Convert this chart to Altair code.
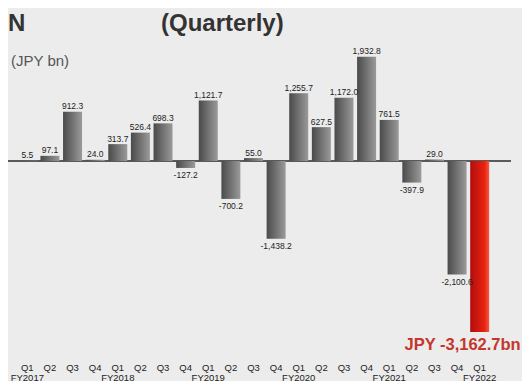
import altair as alt
import pandas as pd

quarters = ["Q1", "Q2", "Q3", "Q4"] * 5 + ["Q1"]
fiscal_years = (["FY2017"] * 4 + ["FY2018"] * 4 + ["FY2019"] * 4 +
                ["FY2020"] * 4 + ["FY2021"] * 4 + ["FY2022"])
values = [5.5, 97.1, 912.3, 24.0, 313.7, 526.4, 698.3, -127.2, 1121.7, -700.2,
          55.0, -1438.2, 1255.7, 627.5, 1172.0, 1932.8, 761.5, -397.9, 29.0,
          -2100.6, -3162.7]
highlight_label = "JPY -3,162.7bn"
title_text = "(Quarterly)"
title_prefix = "N"
unit_text = "(JPY bn)"

periods = [f"{fy} {q}" for fy, q in zip(fiscal_years, quarters)]
df = pd.DataFrame({
    "period": periods,
    "value": values,
    "label": [f"{v:,.1f}" for v in values],
    "last": [False] * (len(values) - 1) + [True],
})

FONT = "Liberation Sans"
YDOM = [-3200, 2000]

x = alt.X("period:N", sort=periods,
          scale=alt.Scale(paddingInner=0.16, paddingOuter=0.08),
          axis=alt.Axis(title=None, domain=False, ticks=False, grid=False,
                        labelAngle=0, labelPadding=28, labelFont=FONT,
                        labelFontSize=9.5, labelColor="#222222", labelLineHeight=10,
                        labelExpr="slice(datum.value, 7) == 'Q1' ? [slice(datum.value, 7), slice(datum.value, 0, 6)] : slice(datum.value, 7)"))
y = alt.Y("value:Q", scale=alt.Scale(domain=YDOM, nice=False, zero=True), axis=None)

base = alt.Chart(df)

gray_grad = alt.Gradient(gradient="linear", x1=0, x2=1, y1=0, y2=0,
                         stops=[alt.GradientStop(offset=0, color="#4a4a4a"),
                                alt.GradientStop(offset=1, color="#9a9a9a")])
red_grad = alt.Gradient(gradient="linear", x1=0, x2=1, y1=0, y2=0,
                        stops=[alt.GradientStop(offset=0, color="#b00e0e"),
                               alt.GradientStop(offset=0.75, color="#e8220f"),
                               alt.GradientStop(offset=1, color="#f25a40")])

gray_bars = base.transform_filter("!datum.last").mark_bar(color=gray_grad).encode(x=x, y=y)
red_bar = base.transform_filter("datum.last").mark_bar(color=red_grad).encode(x=x, y=y)

zero_line = base.transform_filter("datum.last").mark_rule(
    color="#5a5a5a", strokeWidth=2).encode(
    y=alt.Y("zero:Q", scale=alt.Scale(domain=YDOM, nice=False, zero=True), axis=None),
    x=alt.value(-16), x2=alt.value(495)).transform_calculate(zero="0")

pos_labels = base.transform_filter("!datum.last && datum.value >= 0").mark_text(
    font=FONT, fontSize=8.5, color="#222222", baseline="alphabetic", dy=-2.5
).encode(x=x, y=y, text="label:N")
neg_labels = base.transform_filter("!datum.last && datum.value < 0").mark_text(
    font=FONT, fontSize=8.5, color="#222222", baseline="top", dy=3.5
).encode(x=x, y=y, text="label:N")

big_label = base.transform_filter("datum.last").mark_text(
    font=FONT, fontSize=16.5, fontWeight="bold", color="#c4362c",
    baseline="middle", align="right", dx=41, dy=13
).encode(x=x, y=y, text=alt.value(highlight_label))

title_mark = alt.Chart(pd.DataFrame({"t": [title_text]})).mark_text(
    font=FONT, fontSize=24, fontWeight="bold", color="#333333",
    align="left", baseline="middle").encode(
    x=alt.value(145), y=alt.value(-29), text="t:N")
prefix_mark = alt.Chart(pd.DataFrame({"t": [title_prefix]})).mark_text(
    font=FONT, fontSize=24, fontWeight="bold", color="#333333",
    align="left", baseline="middle").encode(
    x=alt.value(-8), y=alt.value(-29), text="t:N")
unit_mark = alt.Chart(pd.DataFrame({"t": [unit_text]})).mark_text(
    font=FONT, fontSize=15, color="#555555",
    align="left", baseline="middle").encode(
    x=alt.value(-5), y=alt.value(8), text="t:N")

chart = alt.layer(
    zero_line, gray_bars, red_bar, pos_labels, neg_labels, big_label,
    title_mark, prefix_mark, unit_mark
).properties(
    width=475, height=281,
    padding={"left": 8, "top": 45, "right": 31, "bottom": 47},
    autosize=alt.AutoSizeParams(type="none"),
    background="#ececec",
).configure_view(stroke=None)

chart.save("out.html", embed_options={"renderer": "svg", "actions": False})
